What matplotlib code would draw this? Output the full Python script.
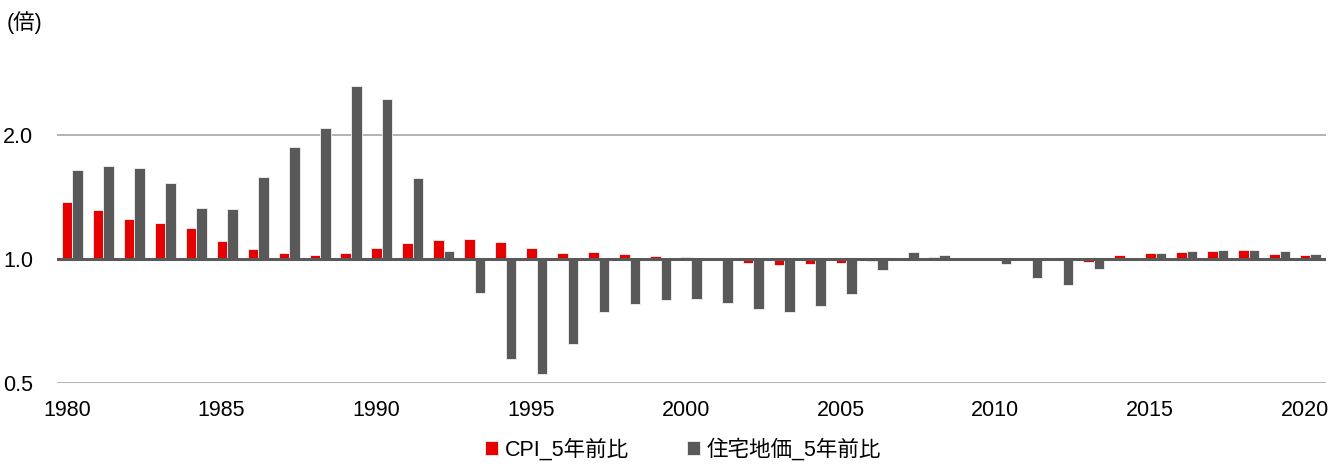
import matplotlib
matplotlib.use("Agg")
import matplotlib.pyplot as plt
import matplotlib.ticker as mticker
import numpy as np

# data (ratio vs. 5 years earlier)
years = list(range(1980, 2021))
cpi_5y = [1.371, 1.314, 1.250, 1.222, 1.189, 1.106, 1.059, 1.032, 1.019, 1.034,
          1.065, 1.093, 1.109, 1.117, 1.100, 1.064, 1.031, 1.037, 1.027, 1.016,
          1.012, 0.999, 0.979, 0.968, 0.973, 0.977, 0.988, 1.000, 1.013, 1.000,
          0.999, 0.992, 0.995, 0.980, 1.020, 1.036, 1.040, 1.042, 1.050, 1.028,
          1.019]
land_5y = [1.643, 1.680, 1.658, 1.524, 1.331, 1.324, 1.577, 1.867, 2.080, 2.620,
           2.445, 1.574, 1.043, 0.826, 0.572, 0.526, 0.620, 0.742, 0.776, 0.795,
           0.799, 0.783, 0.755, 0.743, 0.767, 0.824, 0.939, 1.040, 1.020, 1.000,
           0.973, 0.898, 0.863, 0.947, 1.000, 1.032, 1.046, 1.053, 1.050, 1.042,
           1.028]
series_names = ["CPI_5年前比", "住宅地価_5年前比"]
tick_years = list(range(1980, 2021, 5))

RED = "#e60000"
GRAY = "#595959"
FS = 15.5

plt.rcParams["font.family"] = ["Liberation Sans", "Noto Sans CJK JP"]

fig = plt.figure(figsize=(13.31, 4.74), dpi=100)
ax = fig.add_axes([0.0428, 0.192, 0.9534, 0.651])

x = np.arange(len(years))
w = 0.34
cpi = np.array(cpi_5y)
land = np.array(land_5y)
ax.bar(x - w / 2, cpi - 1, bottom=1, width=w, color=RED,
       edgecolor="#f2f2f2", linewidth=0.6, label=series_names[0], zorder=3)
ax.bar(x + w / 2, land - 1, bottom=1, width=w, color=GRAY,
       edgecolor="#f2f2f2", linewidth=0.6, label=series_names[1], zorder=3)

ax.set_yscale("log")
ax.set_ylim(0.5, 2.8)
ax.set_xlim(-0.5, len(years) - 0.5)

ax.yaxis.set_major_locator(mticker.FixedLocator([0.5, 1.0, 2.0]))
ax.yaxis.set_minor_locator(mticker.NullLocator())
ax.yaxis.set_major_formatter(mticker.FixedFormatter(["0.5", "1.0", "2.0"]))
for v in (0.5, 2.0):
    ax.axhline(v, color="#a6a6a6", linewidth=1.2, zorder=1)
ax.axhline(1.0, color=GRAY, linewidth=2.2, zorder=4)

ax.set_xticks([years.index(y) - 0.18 for y in tick_years])
ax.set_xticklabels([str(y) for y in tick_years])

for s in ax.spines.values():
    s.set_visible(False)
ax.tick_params(axis="both", length=0, labelsize=FS, colors="#000000")
ax.tick_params(axis="x", pad=12)
ax.tick_params(axis="y", pad=17)

fig.text(0.005, 0.953, "(倍)", fontsize=FS, va="center", ha="left")

fig.legend(loc="lower center", bbox_to_anchor=(0.513, -0.012), ncol=2,
           frameon=False, fontsize=FS, handlelength=0.6, handleheight=0.6,
           handletextpad=0.3, columnspacing=2.7)

fig.savefig("out.png", dpi=100)
plt.close()
